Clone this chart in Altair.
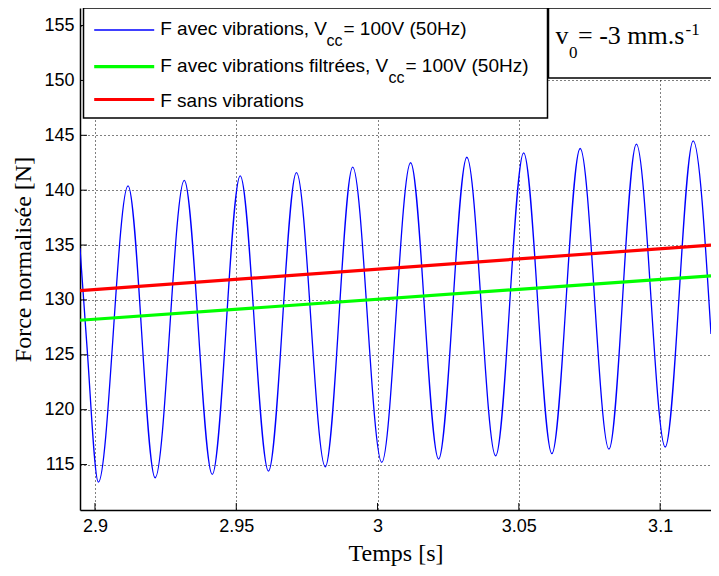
import altair as alt
import pandas as pd

# ---- data ----
time_blue = [2.8947, 2.8971, 2.9012, 2.9117, 2.9213, 2.9316, 2.9415, 2.9514, 2.9614,
             2.9713, 2.9815, 2.9912, 3.0015, 3.0117, 3.0216, 3.0316, 3.0418, 3.0517,
             3.0617, 3.0717, 3.0819, 3.0916, 3.1018, 3.1117, 3.1180]
force_blue = [134.7, 126.0, 113.4, 140.4, 113.8, 140.9, 114.1, 141.3, 114.4,
              141.6, 114.8, 142.1, 115.2, 142.5, 115.5, 143.0, 115.8, 143.4,
              116.0, 143.8, 116.4, 144.2, 116.6, 144.5, 126.9]
time_lines = [2.8947, 3.118]
force_filtered = [128.15, 132.2]
force_sans = [130.85, 135.0]

x_ticks = [2.9, 2.95, 3.0, 3.05, 3.1]
y_ticks = [115, 120, 125, 130, 135, 140, 145, 150, 155]

legend_main = ["F avec vibrations, V", "F avec vibrations filtrées, V", "F sans vibrations"]
legend_sub = ["cc", "cc", ""]
legend_tail = ["= 100V (50Hz)", "= 100V (50Hz)", ""]
legend_colors = ["#0000ff", "#00ff00", "#ff0000"]

note_main = "v"
note_sub = "0"
note_mid = "= -3 mm.s"
note_sup = "-1"

# ---- layout ----
W, H = 631, 502
X_DOMAIN = [2.8947, 3.118]
Y_DOMAIN = [110.86, 156.6]
SANS = "Liberation Sans"
SERIF = "Liberation Serif"

xs = alt.Scale(domain=X_DOMAIN, nice=False, zero=False)
ys = alt.Scale(domain=Y_DOMAIN, nice=False, zero=False)

common_axis = dict(grid=True, gridDash=[1, 3], gridColor="black", gridOpacity=1, gridWidth=1,
                   tickSize=0, labelFont=SANS, labelFontSize=18, labelColor="black",
                   titleFont=SERIF, titleFontSize=24, titleFontWeight="normal",
                   titleColor="black", domainColor="black", domainWidth=1.5,
                   labelFlush=False, labelOverlap=False, labelBound=False)

x_axis = alt.Axis(values=x_ticks, format="~g", title="Temps [s]", labelPadding=7,
                  titlePadding=6, **common_axis)
y_axis = alt.Axis(values=y_ticks, format="~g", title="Force normalisée [N]", labelPadding=6,
                  titlePadding=8, **common_axis)


def X(field):
    return alt.X(field, type="quantitative", scale=xs, axis=x_axis)


def Y(field):
    return alt.Y(field, type="quantitative", scale=ys, axis=y_axis)


blue_df = pd.DataFrame({"t": time_blue, "f": force_blue})
lines_df = pd.DataFrame({"t": time_lines, "filt": force_filtered, "sans": force_sans})

blue = alt.Chart(blue_df).mark_line(color=legend_colors[0], strokeWidth=1.3,
                                    interpolate="monotone", clip=True).encode(
    x=X("t"), y=Y("f"))
green = alt.Chart(lines_df).mark_line(color=legend_colors[1], strokeWidth=3.2, clip=True).encode(
    x=X("t"), y=Y("filt"))
red = alt.Chart(lines_df).mark_line(color=legend_colors[2], strokeWidth=3.2, clip=True).encode(
    x=X("t"), y=Y("sans"))

# inward ticks (MATLAB style)
xt = alt.Chart(pd.DataFrame({"v": x_ticks})).mark_rule(color="black", strokeWidth=1).encode(
    x=X("v"), y=alt.value(H), y2=alt.value(H - 7))
yt = alt.Chart(pd.DataFrame({"v": y_ticks})).mark_rule(color="black", strokeWidth=1).encode(
    y=Y("v"), x=alt.value(0), x2=alt.value(7))

one = alt.Data(values=[{}])


def box(x1, x2, y1, y2):
    return alt.Chart(one).mark_rect(fill="white", stroke="black", strokeWidth=1.5).encode(
        x=alt.value(x1), x2=alt.value(x2), y=alt.value(y1), y2=alt.value(y2))


def txt(s, x, y, font, size):
    return alt.Chart(one).mark_text(align="left", baseline="alphabetic", font=font,
                                    fontSize=size, color="black").encode(
        x=alt.value(x), y=alt.value(y), text=alt.value(s))


def seg(color, x1, x2, y, w):
    return alt.Chart(one).mark_rule(color=color, strokeWidth=w).encode(
        x=alt.value(x1), x2=alt.value(x2), y=alt.value(y))


layers = [blue, green, red, xt, yt]

# legend box
layers.append(box(3.5, 467.5, 0, 110))
line_y = [22, 58.7, 91.5]
base_y = [26.5, 63.5, 98.5]
sub_x = [246.5, 308.5]
tail_x = [263.5, 325.5]
widths = [1.3, 3.2, 3.2]
for i in range(3):
    layers.append(seg(legend_colors[i], 14.2, 74.2, line_y[i], widths[i]))
    layers.append(txt(legend_main[i], 80.2, base_y[i], SANS, 19))
    if legend_sub[i]:
        layers.append(txt(legend_sub[i], sub_x[i], base_y[i] + 11, SANS, 16))
        layers.append(txt(legend_tail[i], tail_x[i], base_y[i], SANS, 19))

# note box
layers.append(box(468.5, 700, 0, 70))
layers.append(txt(note_main, 475.5, 36, SERIF, 26))
layers.append(txt(note_sub, 489, 50, SERIF, 17))
layers.append(txt(note_mid, 498, 36, SERIF, 26))
layers.append(txt(note_sup, 605.5, 27, SERIF, 17))

chart = alt.layer(*layers).properties(
    width=W, height=H,
    padding={"left": 72, "top": 0, "right": 0, "bottom": 58},
    autosize=alt.AutoSizeParams(type="none"),
    background="white",
).configure_view(stroke=None)

chart.save("out.html", embed_options={"renderer": "svg", "actions": False})
